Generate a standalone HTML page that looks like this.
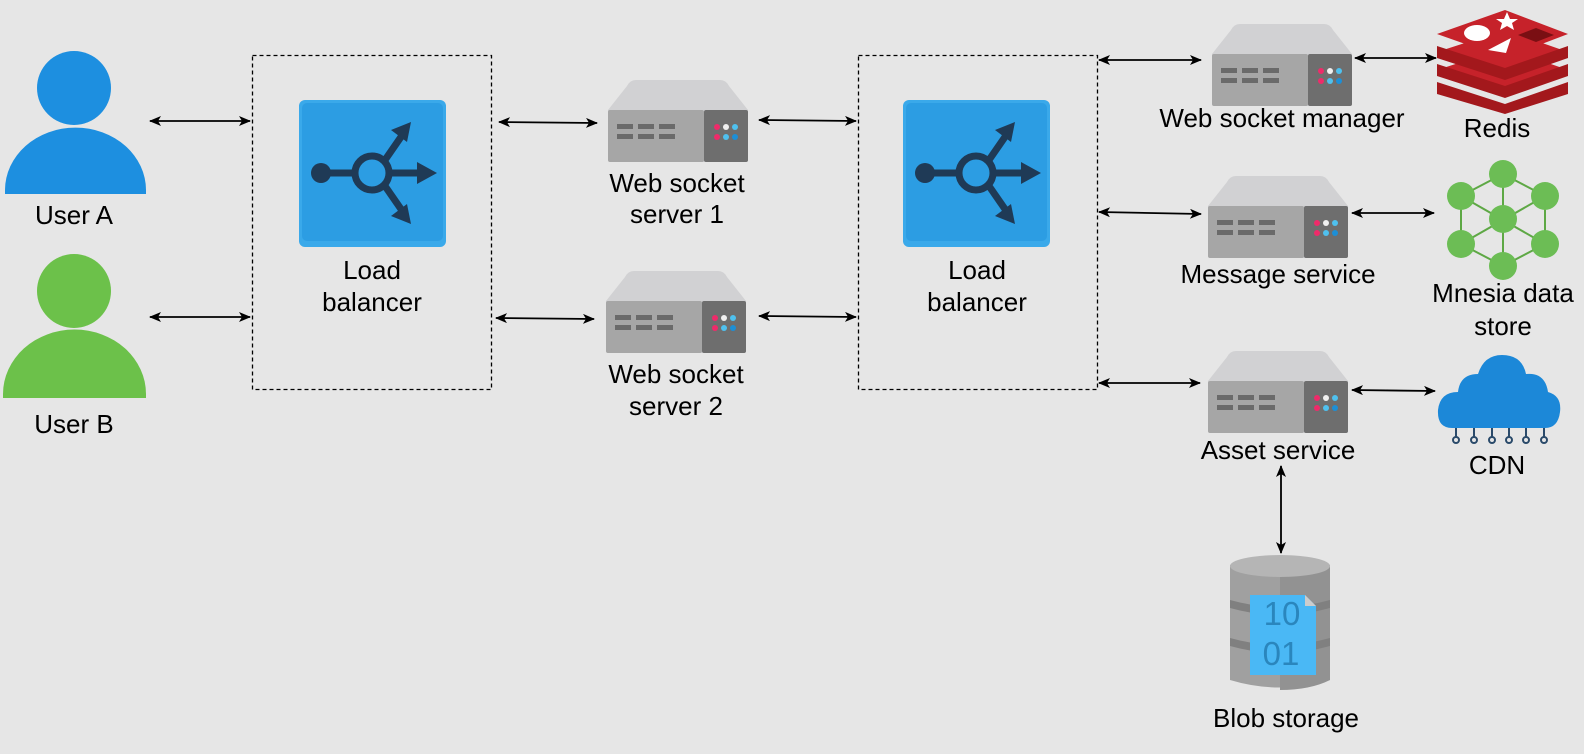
<!DOCTYPE html>
<html><head><meta charset="utf-8"><style>
html,body{margin:0;padding:0;background:#e6e6e6;overflow:hidden;}
svg{display:block;font-family:"Liberation Sans",Arial,sans-serif;}
</style></head><body>
<svg width="1584" height="754" viewBox="0 0 1584 754" xmlns="http://www.w3.org/2000/svg">
<defs>
<marker id="a" viewBox="0 0 12 10" refX="11" refY="5" markerWidth="13" markerHeight="10" orient="auto-start-reverse" markerUnits="userSpaceOnUse">
<path d="M0,0 L12,5 L0,10 L3,5 z" fill="#000"/></marker>
<g id="srv">
<path d="M28,0 H112 Q118,0 121,6 L140,30 V80 Q140,82 137,82 H3 Q0,82 0,80 V30 L19,6 Q22,0 28,0 Z" fill="#d1d1d3"/>
<rect x="0" y="30" width="96" height="52" rx="2" fill="#a6a6a6"/>
<rect x="96" y="30" width="44" height="52" rx="2" fill="#6e6e6e"/>
<g fill="#6a6a6a"><rect x="9" y="44" width="16" height="5"/><rect x="30" y="44" width="16" height="5"/><rect x="51" y="44" width="16" height="5"/><rect x="9" y="54" width="16" height="5"/><rect x="30" y="54" width="16" height="5"/><rect x="51" y="54" width="16" height="5"/></g>
<circle cx="109" cy="47" r="3" fill="#ef2b6a"/><circle cx="118" cy="47" r="3" fill="#f0f0f0"/><circle cx="127" cy="47" r="3" fill="#4fc1ef"/>
<circle cx="109" cy="57" r="3" fill="#ef2b6a"/><circle cx="118" cy="57" r="3" fill="#4fc1ef"/><circle cx="127" cy="57" r="3" fill="#1d8fd6"/>
</g>
<g id="lb">
<rect x="0" y="0" width="147" height="147" rx="6" fill="#3aa9ea"/>
<rect x="3" y="3" width="141" height="138" rx="5" fill="#2c9de3"/>
<g stroke="#1f3a56" stroke-width="7" fill="none" stroke-linecap="round">
<line x1="22" y1="73" x2="55" y2="73"/>
<line x1="91" y1="73" x2="125" y2="73"/>
<line x1="86" y1="60" x2="104" y2="34"/>
<line x1="86" y1="86" x2="104" y2="112"/>
<circle cx="73" cy="73" r="17"/>
</g>
<circle cx="22" cy="73" r="10" fill="#1f3a56"/>
<path d="M138,73 L118,62 L118,84 Z" fill="#1f3a56"/>
<path d="M112,22 L92,30 L108,42 Z" fill="#1f3a56"/>
<path d="M112,124 L92,116 L108,104 Z" fill="#1f3a56"/>
</g>
</defs>

<!-- Users -->
<circle cx="74" cy="88" r="37" fill="#1d8fe0"/>
<path d="M5,194 V190 A70,62 0 0 1 146,190 V194 Z" fill="#1d8fe0"/>
<circle cx="74" cy="291" r="37" fill="#6cc14a"/>
<path d="M3,398 V394 A71,64 0 0 1 146,394 V398 Z" fill="#6cc14a"/>

<!-- Dashed boxes -->
<rect x="252.5" y="55.5" width="239" height="334" fill="none" stroke="#000" stroke-width="1.3" stroke-dasharray="4,3"/>
<rect x="858.5" y="55.5" width="239" height="334" fill="none" stroke="#000" stroke-width="1.3" stroke-dasharray="4,3"/>
<use href="#lb" x="299" y="100"/>
<use href="#lb" x="903" y="100"/>

<!-- Servers -->
<use href="#srv" x="608" y="80"/>
<use href="#srv" x="606" y="271"/>
<use href="#srv" x="1212" y="24"/>
<use href="#srv" x="1208" y="176"/>
<use href="#srv" x="1208" y="351"/>

<!-- Redis -->
<g>
<path d="M1437,82 L1505,104 L1568,82 V94 L1505,114 L1437,94 Z" fill="#a3181c"/>
<path d="M1437,70 L1505,48 L1568,70 L1505,92 Z" fill="#c6222a"/>
<path d="M1437,64 L1505,86 L1568,64 V76 L1505,98 L1437,76 Z" fill="#a3181c"/>
<path d="M1437,52 L1505,30 L1568,52 L1505,74 Z" fill="#c6222a"/>
<path d="M1437,46 L1505,68 L1568,46 V58 L1505,80 L1437,58 Z" fill="#a3181c"/>
<path d="M1437,34 L1505,10 L1568,34 L1505,58 Z" fill="#c6222a"/>
<ellipse cx="1477" cy="33" rx="13" ry="8" fill="#fff"/>
<path d="M1507,12 L1510,19 L1518,19 L1512,23 L1514,30 L1507,26 L1500,30 L1502,23 L1496,19 L1504,19 Z" fill="#fff"/>
<path d="M1511,38 L1506,53 L1488,50 Z" fill="#fff"/>
<path d="M1518,35 L1536,28 L1554,35 L1536,42 Z" fill="#7a0f13"/>
</g>

<!-- Mnesia -->
<g stroke="#5ea845" stroke-width="2">
<line x1="1503" y1="174" x2="1461" y2="196"/><line x1="1503" y1="174" x2="1545" y2="196"/>
<line x1="1503" y1="174" x2="1503" y2="266"/>
<line x1="1461" y1="196" x2="1461" y2="244"/><line x1="1545" y1="196" x2="1545" y2="244"/>
<line x1="1461" y1="196" x2="1545" y2="244"/><line x1="1545" y1="196" x2="1461" y2="244"/>
<line x1="1461" y1="244" x2="1503" y2="266"/><line x1="1545" y1="244" x2="1503" y2="266"/>
</g>
<g fill="#6cbd55">
<circle cx="1503" cy="174" r="14"/><circle cx="1461" cy="196" r="14"/><circle cx="1545" cy="196" r="14"/>
<circle cx="1503" cy="219" r="14"/><circle cx="1461" cy="244" r="14"/><circle cx="1545" cy="244" r="14"/>
<circle cx="1503" cy="266" r="14"/>
</g>

<!-- CDN cloud -->
<path d="M1452,428 Q1437,428 1438,410 Q1440,392 1458,392 Q1460,374 1478,374 Q1484,355 1502,355 Q1522,355 1526,374 Q1545,372 1548,392 Q1562,396 1560,412 Q1558,428 1545,428 Z" fill="#1c88d8"/>
<g stroke="#2a4a6a" stroke-width="2" fill="none">
<line x1="1456" y1="428" x2="1456" y2="437"/><line x1="1474" y1="428" x2="1474" y2="437"/><line x1="1492" y1="428" x2="1492" y2="437"/><line x1="1509" y1="428" x2="1509" y2="437"/><line x1="1526" y1="428" x2="1526" y2="437"/><line x1="1544" y1="428" x2="1544" y2="437"/>
<circle cx="1456" cy="440" r="3"/><circle cx="1474" cy="440" r="3"/><circle cx="1492" cy="440" r="3"/><circle cx="1509" cy="440" r="3"/><circle cx="1526" cy="440" r="3"/><circle cx="1544" cy="440" r="3"/>
</g>

<!-- Blob storage -->
<g>
<path d="M1230,565 Q1280,550 1330,565 V680 Q1280,695 1230,680 Z" fill="#a0a0a0"/>
<path d="M1280,557 Q1310,558 1330,565 V680 Q1310,690 1280,690 Z" fill="#929292"/>
<ellipse cx="1280" cy="566" rx="50" ry="11" fill="#b5b5b5"/>
<path d="M1230,600 Q1280,614 1330,600 V608 Q1280,622 1230,608 Z" fill="#808080"/>
<path d="M1230,638 Q1280,652 1330,638 V646 Q1280,660 1230,646 Z" fill="#808080"/>
<path d="M1250,595 H1305 L1316,606 V675 H1250 Z" fill="#4ab8f5"/>
<path d="M1305,595 L1316,606 H1305 Z" fill="#ccc"/>
<text x="1282" y="625" font-size="33" text-anchor="middle" fill="#2a86bd">10</text>
<text x="1281" y="665" font-size="33" text-anchor="middle" fill="#2a86bd">01</text>
</g>

<!-- Arrows -->
<g stroke="#000" stroke-width="1.8" marker-start="url(#a)" marker-end="url(#a)">
<line x1="150" y1="121" x2="250" y2="121"/>
<line x1="150" y1="317" x2="250" y2="317"/>
<line x1="499" y1="122" x2="597" y2="123"/>
<line x1="496" y1="318" x2="594" y2="319"/>
<line x1="759" y1="120" x2="856" y2="121"/>
<line x1="759" y1="316" x2="856" y2="317"/>
<line x1="1099" y1="60" x2="1201" y2="60"/>
<line x1="1099" y1="212" x2="1201" y2="214"/>
<line x1="1099" y1="383" x2="1200" y2="383"/>
<line x1="1355" y1="58" x2="1436" y2="58"/>
<line x1="1352" y1="213" x2="1434" y2="213"/>
<line x1="1352" y1="390" x2="1435" y2="391"/>
<line x1="1281" y1="466" x2="1281" y2="553"/>
</g>

<!-- Labels -->
<g font-size="26" text-anchor="middle" fill="#000">
<text x="74" y="224">User A</text>
<text x="74" y="433">User B</text>
<text x="372" y="279">Load</text><text x="372" y="311">balancer</text>
<text x="977" y="279">Load</text><text x="977" y="311">balancer</text>
<text x="677" y="192">Web socket</text><text x="677" y="223">server 1</text>
<text x="676" y="383">Web socket</text><text x="676" y="415">server 2</text>
<text x="1282" y="127">Web socket manager</text>
<text x="1278" y="283">Message service</text>
<text x="1278" y="459">Asset service</text>
<text x="1497" y="137">Redis</text>
<text x="1503" y="302">Mnesia data</text><text x="1503" y="335">store</text>
<text x="1497" y="474">CDN</text>
<text x="1286" y="727">Blob storage</text>
</g>
</svg>
</body></html>
